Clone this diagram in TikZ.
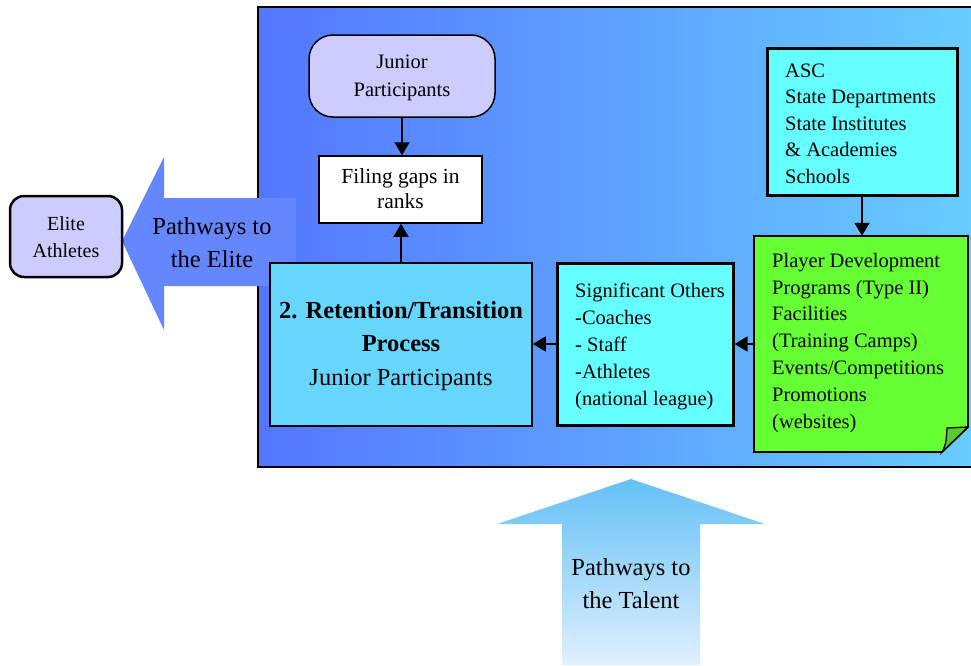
\documentclass[tikz,border=0pt]{standalone}
\usepackage{fontspec}
\setmainfont{Liberation Serif}
\usetikzlibrary{arrows.meta}
\definecolor{panelL}{RGB}{84,118,255}
\definecolor{panelR}{RGB}{104,206,255}
\definecolor{lilac}{RGB}{204,204,255}
\definecolor{retblue}{RGB}{102,214,255}
\definecolor{aqua}{RGB}{102,255,255}
\definecolor{lime}{RGB}{102,255,51}
\definecolor{limefold}{RGB}{84,204,44}
\definecolor{elitearrow}{RGB}{100,134,255}
\definecolor{talenttop}{RGB}{100,192,246}
\definecolor{talentbot}{RGB}{224,240,255}

\begin{document}
\begin{tikzpicture}[x=1pt,y=-1pt,
  box/.style={draw=black, inner sep=0pt, line width=1.5pt},
  txt/.style={inner sep=0pt, font=\fontsize{20.5}{26.8}\selectfont},
  bigtxt/.style={inner sep=0pt, font=\fontsize{24.5}{32.5}\selectfont},
  conn/.style={line width=1.3pt, -{Triangle[length=13pt,width=15pt]}},
]
\useasboundingbox (0,0) rectangle (971,665);

% blue panel
\path[left color=panelL, right color=panelR] (258,7) rectangle (985,467);
\draw[line width=2pt] (985,7) -- (258,7) -- (258,467) -- (985,467);

% left arrow: pathways to the elite (anchors below sit on the last baseline)
\fill[elitearrow] (122,241) -- (164,157) -- (164,198) -- (296,198) -- (296,286)
  -- (164,286) -- (164,330) -- cycle;
\node[bigtxt, align=center, anchor=base] (elitepath) at (212,267) {Pathways to\\the Elite};

% elite athletes
\node[box, line width=2.5pt, fill=lilac, rounded corners=14pt,
  minimum width=112pt, minimum height=81pt] (elite) at (66,236.5) {};
\node[txt, font=\fontsize{20}{27}\selectfont, align=center, anchor=base] (elitetxt) at (66,257) {Elite\\Athletes};

% junior participants
\node[box, fill=lilac, rounded corners=24pt,
  minimum width=186pt, minimum height=82pt] (junior) at (402,76) {};
\node[txt, font=\fontsize{20.5}{28}\selectfont, align=center, anchor=base] (juniortxt) at (402,96) {Junior\\Participants};

% filling gaps
\node[box, fill=white, minimum width=163pt, minimum height=67pt] (gaps) at (400.5,189.5) {};
\node[txt, font=\fontsize{21.5}{25}\selectfont, align=center, anchor=base] (gapstxt) at (400.5,208) {Filing gaps in\\ranks};

% retention / transition process
\node[box, fill=retblue, minimum width=262pt, minimum height=163pt] (ret) at (401,344.5) {};
\node[bigtxt, align=center, anchor=base, font=\fontsize{24.5}{33.5}\selectfont] (rettxt) at (401,385)
  {\textbf{2. Retention/Transition}\\\textbf{Process}\\Junior Participants};

% significant others
\node[box, line width=3pt, fill=aqua, minimum width=176pt, minimum height=162pt] (sig) at (645,344) {};
\node[txt, font=\fontsize{20.5}{27}\selectfont, align=left, anchor=base west] (sigtxt) at (575,405)
  {Significant Others\\-Coaches\\- Staff\\-Athletes\\(national league)};

% state bodies
\node[box, line width=3pt, fill=aqua, minimum width=190pt, minimum height=147pt] (asc) at (862,121.5) {};
\node[txt, font=\fontsize{20.5}{26.5}\selectfont, align=left, anchor=base west] (asctxt) at (785,183)
  {ASC\\State Departments\\State Institutes\\\& Academies\\Schools};

% player development note with a folded corner
\node[inner sep=0pt, minimum width=214pt, minimum height=216pt] (dev) at (861,344) {};
\draw[line width=1.8pt, fill=lime] (754,236) -- (968,236) -- (968,427) -- (942,452)
  -- (754,452) -- cycle;
\draw[line width=1.3pt, fill=limefold] (947,428) -- (968,427) -- (942,452)
  .. controls (946,444) .. (947,428) -- cycle;
\node[txt, align=left, anchor=base west] (devtxt) at (772,428)
  {Player Development\\Programs (Type II)\\Facilities\\(Training Camps)\\Events/Competitions\\Promotions\\(websites)};

% bottom arrow: pathways to the talent
\shade[top color=talenttop, bottom color=talentbot] (631,479) -- (765,524) -- (700,524)
  -- (700,665) -- (562,665) -- (562,524) -- (497,524) -- cycle;
\node[bigtxt, align=center, anchor=base] (talentpath) at (631,608) {Pathways to\\the Talent};

% connectors
\draw[conn] (junior.south) -- (junior.south |- gaps.north);
\draw[conn] (ret.north) -- (ret.north |- gaps.south);
\draw[conn] (sig.west) -- (ret.east |- sig.west);
\draw[conn] (dev.west) -- (sig.east |- dev.west);
\draw[conn] (asc.south) -- (asc.south |- dev.north);
\end{tikzpicture}
\end{document}
